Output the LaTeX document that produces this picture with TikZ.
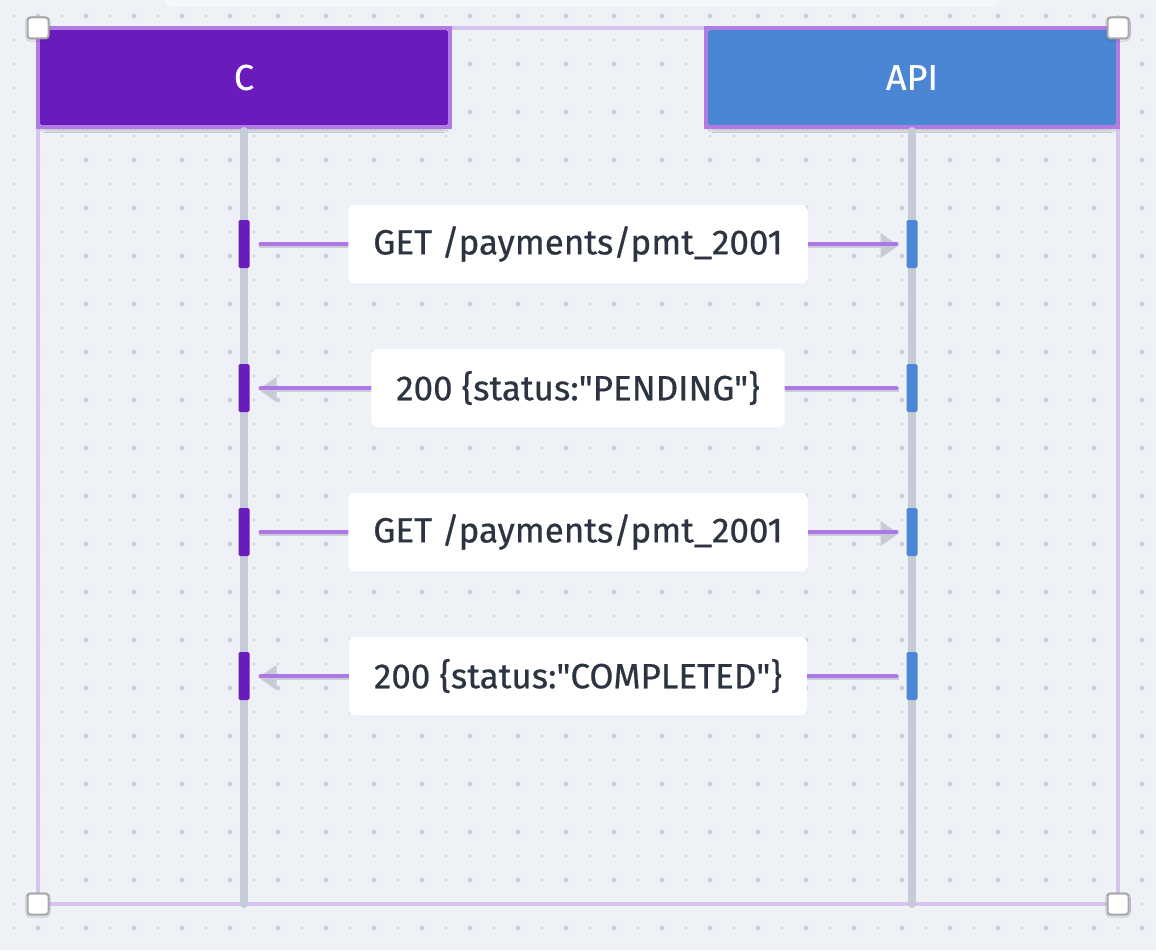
\documentclass[tikz,border=0pt]{standalone}
\usepackage{fontspec}
\newfontfamily\diagfont{Fira Sans}[FakeBold=0.5]
\usetikzlibrary{arrows.meta,shadows.blur,calc}

\definecolor{canvas}{HTML}{EEF2F6}
\definecolor{griddot}{HTML}{C9D0DC}
\definecolor{selframe}{HTML}{D6C3F0}
\definecolor{hdrborder}{HTML}{B07BE3}
\definecolor{clientfill}{HTML}{6A1BBB}
\definecolor{apifill}{HTML}{4A86D4}
\definecolor{lifeline}{HTML}{C5CCD8}
\definecolor{msgline}{HTML}{AD78E2}
\definecolor{msgtext}{HTML}{2B3440}
\definecolor{handleedge}{HTML}{A8A8A8}

\tikzset{
  header/.style={rounded corners=9pt, minimum width=412pt, minimum height=99pt,
    inner sep=0pt, outer sep=0pt, text=white,
    font=\diagfont\fontsize{36}{40}\selectfont,
    blur shadow={shadow xshift=0pt, shadow yshift=-4pt, shadow blur steps=6, shadow opacity=18}},
  hdrframe/.style={draw=hdrborder, line width=4pt},
  lifelinestyle/.style={draw=lifeline, line width=8pt, line cap=round},
  actbar/.style={minimum width=11pt, minimum height=48pt, inner sep=0pt,
    outer sep=0pt, rounded corners=2pt},
  lbl/.style={fill=white, rounded corners=6pt, minimum height=78pt,
    inner xsep=25pt, text=msgtext, font=\diagfont\fontsize{35}{40}\selectfont},
  msgunder/.style={draw=lifeline, line width=5pt,
    -{Triangle[length=18pt, width=24pt, fill=lifeline]}},
  msgover/.style={draw=msgline, line width=4pt, line cap=round},
  handle/.style={fill=white, draw=handleedge, line width=2pt, rounded corners=3pt,
    minimum size=21pt, inner sep=0pt,
    blur shadow={shadow xshift=0pt, shadow yshift=-1pt, shadow blur steps=3, shadow opacity=25}},
}

\begin{document}
\begin{tikzpicture}[x=1pt, y=-1pt]
  % canvas
  \path[use as bounding box, fill=canvas] (0,0) rectangle (1156,950);

  % dotted grid
  \foreach \i in {0,...,47} {
    \foreach \j in {0,...,39} {
      \fill[griddot] (14+24*\i, 16+24*\j) circle (1.3);
    }
  }
  \foreach \i in {0,...,23} {
    \foreach \j in {0,...,19} {
      \fill[griddot] (38+48*\i, 16+48*\j) circle (2.4);
    }
  }

  % faint panel peeking in at the top edge
  \fill[white, opacity=0.45, rounded corners=8pt] (165,-20) rectangle (1000,7);

  % selection frame
  \draw[selframe, line width=3.5pt] (38,28) rectangle (1118,904);

  % participants
  \node[header, fill=clientfill] (C) at (244,77.5) {C};
  \node[header, fill=apifill] (API) at (912,77.5) {API};
  \draw[hdrframe] (C.north west) rectangle (C.south east);
  \draw[hdrframe] (API.north west) rectangle (API.south east);

  % lifelines
  \coordinate (Cend) at (244,904);
  \coordinate (APIend) at (912,904);
  \path[lifelinestyle] (C.south) ++(0,4) -- (Cend);
  \path[lifelinestyle] (API.south) ++(0,4) -- (APIend);

  % activation bars
  \foreach \k/\y in {1/244, 2/388, 3/532, 4/676} {
    \node[actbar, fill=clientfill] (c\k) at (244,\y) {};
    \node[actbar, fill=apifill] (a\k) at (912,\y) {};
  }

  % requests: client -> api
  \foreach \k in {1,3} {
    \draw[msgunder] ($(c\k.east)+(9,1.5)$) -- ($(a\k.west)+(-8,1.5)$);
    \draw[msgover] ($(c\k.east)+(11,0)$) -- ($(a\k.west)+(-10,0)$);
  }
  % responses: api -> client
  \foreach \k in {2,4} {
    \draw[msgunder] ($(a\k.west)+(-8,1.5)$) -- ($(c\k.east)+(9,1.5)$);
    \draw[msgover] ($(a\k.west)+(-10,0)$) -- ($(c\k.east)+(11,0)$);
  }

  % message labels
  \node[lbl] (m1) at ($(c1)!0.5!(a1)$) {GET /payments/pmt\_2001};
  \node[lbl] (m2) at ($(c2)!0.5!(a2)$) {200 \{status:"PENDING"\}};
  \node[lbl] (m3) at ($(c3)!0.5!(a3)$) {GET /payments/pmt\_2001};
  \node[lbl] (m4) at ($(c4)!0.5!(a4)$) {200 \{status:"COMPLETED"\}};

  % selection handles
  \node[handle] (h1) at (38,28) {};
  \node[handle] (h2) at (1118,28) {};
  \node[handle] (h3) at (38,904) {};
  \node[handle] (h4) at (1118,904) {};
\end{tikzpicture}
\end{document}
